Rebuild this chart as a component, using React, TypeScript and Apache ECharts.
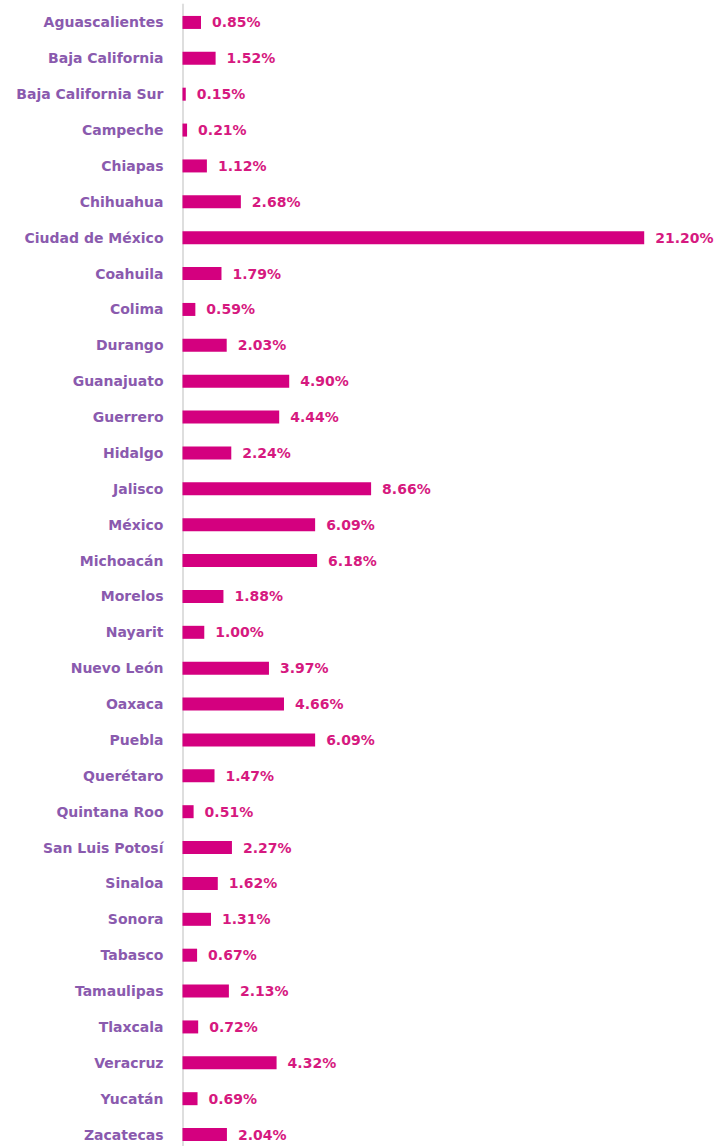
import React, { useEffect, useRef } from "react";
import * as echarts from "echarts";

const states = [
  "Aguascalientes", "Baja California", "Baja California Sur", "Campeche", "Chiapas",
  "Chihuahua", "Ciudad de México", "Coahuila", "Colima", "Durango", "Guanajuato",
  "Guerrero", "Hidalgo", "Jalisco", "México", "Michoacán", "Morelos", "Nayarit",
  "Nuevo León", "Oaxaca", "Puebla", "Querétaro", "Quintana Roo", "San Luis Potosí",
  "Sinaloa", "Sonora", "Tabasco", "Tamaulipas", "Tlaxcala", "Veracruz", "Yucatán", "Zacatecas",
];

const shares = [
  0.85, 1.52, 0.15, 0.21, 1.12, 2.68, 21.2, 1.79, 0.59, 2.03, 4.9, 4.44, 2.24, 8.66,
  6.09, 6.18, 1.88, 1.0, 3.97, 4.66, 6.09, 1.47, 0.51, 2.27, 1.62, 1.31, 0.67, 2.13,
  0.72, 4.32, 0.69, 2.04,
];

export default function App() {
  const ref = useRef<HTMLDivElement>(null);
  useEffect(() => {
    if (!ref.current) return;
    const chart = echarts.init(ref.current, undefined, { renderer: "svg" });
    chart.setOption({
      animation: false,
      backgroundColor: "#ffffff",
      grid: { left: 182.5, top: 4.5, width: 537.5, height: 1148, containLabel: false },
      xAxis: {
        type: "value",
        min: 0,
        max: 24.68,
        show: false,
      },
      yAxis: {
        type: "category",
        data: states,
        inverse: true,
        axisLine: { show: true, lineStyle: { color: "#dedede", width: 2 } },
        axisTick: { show: false },
        axisLabel: {
          color: "#8a5aae",
          fontFamily: "DejaVu Sans",
          fontWeight: "bold",
          fontSize: 14,
          margin: 19,
        },
      },
      series: [
        {
          type: "bar",
          data: shares,
          barWidth: 13,
          itemStyle: { color: "#d4007f" },
          label: {
            show: true,
            position: "right",
            distance: 11,
            color: "#d6197f",
            fontFamily: "DejaVu Sans",
            fontWeight: "bold",
            fontSize: 14,
            formatter: (p: any) => p.value.toFixed(2) + "%",
          },
        },
      ],
    });
    return () => chart.dispose();
  }, []);
  return (
    <div
      style={{
        position: "absolute",
        left: 0,
        top: 0,
        width: 721,
        height: 1146,
        overflow: "hidden",
      }}
    >
      <div ref={ref} style={{ width: 721, height: 1160 }} />
    </div>
  );
}
